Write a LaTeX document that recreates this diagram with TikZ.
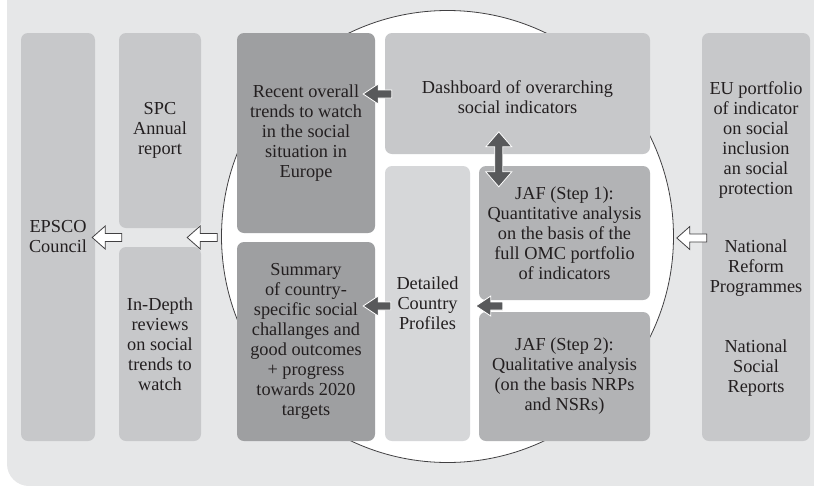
\documentclass[tikz,border=0pt]{standalone}
\usepackage{fontspec}
\setmainfont{Liberation Serif}
\usetikzlibrary{calc}
\definecolor{bgc}{HTML}{E6E7E8}
\definecolor{lightc}{HTML}{C7C8CA}
\definecolor{paledc}{HTML}{D6D7D9}
\definecolor{midc}{HTML}{B2B3B5}
\definecolor{darkc}{HTML}{9E9FA1}
\definecolor{arrowc}{HTML}{58595B}
\definecolor{linec}{HTML}{414042}
\definecolor{textc}{HTML}{231F20}
\tikzset{
  box/.style={rounded corners=7pt, inner sep=0pt, align=center, text=textc,
    font=\fontsize{18.3}{20}\selectfont},
  lbl/.style={inner sep=0pt, align=center, text=textc,
    font=\fontsize{18.3}{20}\selectfont},
  fatarrow/.style n args={3}{to path={
    ($(\tikztostart)!#1!90:(\tikztotarget)$)
    -- ($(\tikztotarget)!#3!(\tikztostart)!#1!90:(\tikztotarget)$)
    -- ($(\tikztotarget)!#3!(\tikztostart)!#2!90:(\tikztotarget)$)
    -- (\tikztotarget)
    -- ($(\tikztotarget)!#3!(\tikztostart)!#2!-90:(\tikztotarget)$)
    -- ($(\tikztotarget)!#3!(\tikztostart)!#1!-90:(\tikztotarget)$)
    -- ($(\tikztostart)!#1!-90:(\tikztotarget)$)
    -- cycle}},
  fatdouble/.style n args={3}{to path={
    (\tikztostart)
    -- ($(\tikztostart)!#3!(\tikztotarget)!#2!90:(\tikztotarget)$)
    -- ($(\tikztostart)!#3!(\tikztotarget)!#1!90:(\tikztotarget)$)
    -- ($(\tikztotarget)!#3!(\tikztostart)!#1!90:(\tikztotarget)$)
    -- ($(\tikztotarget)!#3!(\tikztostart)!#2!90:(\tikztotarget)$)
    -- (\tikztotarget)
    -- ($(\tikztotarget)!#3!(\tikztostart)!#2!-90:(\tikztotarget)$)
    -- ($(\tikztotarget)!#3!(\tikztostart)!#1!-90:(\tikztotarget)$)
    -- ($(\tikztostart)!#3!(\tikztotarget)!#1!-90:(\tikztotarget)$)
    -- ($(\tikztostart)!#3!(\tikztotarget)!#2!-90:(\tikztotarget)$)
    -- cycle}},
  hollow/.style={fill=white, draw=linec, line width=0.8pt, line join=miter,
    fatarrow={4pt}{11.5pt}{13pt}},
  solid/.style={fill=arrowc, draw=white, line width=0.8pt, line join=miter,
    fatarrow={4pt}{10pt}{15pt}},
  soliddouble/.style={fill=arrowc, draw=white, line width=0.8pt, line join=miter,
    fatdouble={4pt}{13pt}{15pt}},
}
\begin{document}
\begin{tikzpicture}[x=1pt, y=-1pt]
\useasboundingbox (0,0) rectangle (814,485);
% background panel
\fill[bgc, rounded corners=22pt] (7,-40) rectangle (850,486);
% circle
\draw[linec, fill=white, line width=0.8pt] (447.5,236.5) circle (226pt);

% boxes
\node[box, fill=lightc, minimum width=74pt, minimum height=408pt] (epsco) at (58,237) {EPSCO\\Council};
\node[box, fill=lightc, minimum width=82pt, minimum height=195pt] (spc) at (160,130.5) {SPC\\Annual\\report};
\node[box, fill=lightc, minimum width=82pt, minimum height=194pt] (indepth) at (160,344) {In-Depth\\reviews\\on social\\trends to\\watch};
\node[box, fill=darkc, minimum width=138pt, minimum height=200pt] (recent) at (306,133) {Recent overall\\trends to watch\\in the social\\situation in\\Europe};
\node[box, fill=darkc, minimum width=138pt, minimum height=199pt] (summary) at (306,341.5) {Summary\\of country-\\specific social\\challanges and\\good outcomes\\+ progress\\towards 2020\\targets};
\node[box, fill=lightc, minimum width=265pt, minimum height=121pt] (dash) at (517.5,93.5) {};
\node[lbl] (dashtxt) at (517.5,97) {Dashboard of overarching\\social indicators};
\node[box, fill=paledc, minimum width=85pt, minimum height=275pt] (detail) at (427.5,303.5) {Detailed\\Country\\Profiles};
\node[box, fill=midc, minimum width=171pt, minimum height=134pt] (jaf1) at (564.5,233) {JAF (Step 1):\\Quantitative analysis\\on the basis of the\\full OMC portfolio\\of indicators};
\node[box, fill=midc, minimum width=171pt, minimum height=129pt] (jaf2) at (564.5,376.5) {JAF (Step 2):\\Qualitative analysis\\(on the basis NRPs\\and NSRs)};
\node[box, fill=lightc, minimum width=108pt, minimum height=408pt] (right) at (756,237) {};
\node[lbl] (eup) at (756,140) {EU portfolio\\of indicator\\on social\\inclusion\\an social\\protection};
\node[lbl] (nrp) at (756,268) {National\\Reform\\Programmes};
\node[lbl] (nsr) at (756,368) {National\\Social\\Reports};

% connector end points
\coordinate (gapL) at ($(spc.south west)!0.5!(indepth.north west)$);
\coordinate (gapR) at ($(spc.south east)!0.5!(indepth.north east)$);
\coordinate (a1s) at ($(gapL)+(3,0)$);
\coordinate (a1e) at ($(epsco.east|-gapL)+(-3,0)$);
\coordinate (a2s) at ($(gapR)+(16,0)$);
\coordinate (a2e) at ($(gapR)+(-14,0)$);
\coordinate (a3s) at ($(right.west)+(5,1)$);
\coordinate (a3e) at ($(right.west)+(-25,1)$);
\coordinate (b1s) at ($(dash.west)+(7,0.5)$);
\coordinate (b1e) at ($(recent.east|-dash.west)+(-12,0.5)$);
\coordinate (gapJ) at ($(jaf1.south west)!0.5!(jaf2.north west)$);
\coordinate (b2s) at ($(gapJ)+(24,0)$);
\coordinate (b2e) at ($(gapJ)+(-3,0)$);
\coordinate (b3s) at ($(detail.west|-gapJ)+(6,0)$);
\coordinate (b3e) at ($(summary.east|-gapJ)+(-12,0)$);
\coordinate (d1) at ($(jaf1.north west)+(20,-34)$);
\coordinate (d2) at ($(jaf1.north west)+(20,21)$);

% connectors
\draw[hollow] (a1s) to (a1e);
\draw[hollow] (a2s) to (a2e);
\draw[hollow] (a3s) to (a3e);
\draw[solid] (b1s) to (b1e);
\draw[solid] (b2s) to (b2e);
\draw[solid] (b3s) to (b3e);
\draw[soliddouble] (d1) to (d2);
\end{tikzpicture}
\end{document}
